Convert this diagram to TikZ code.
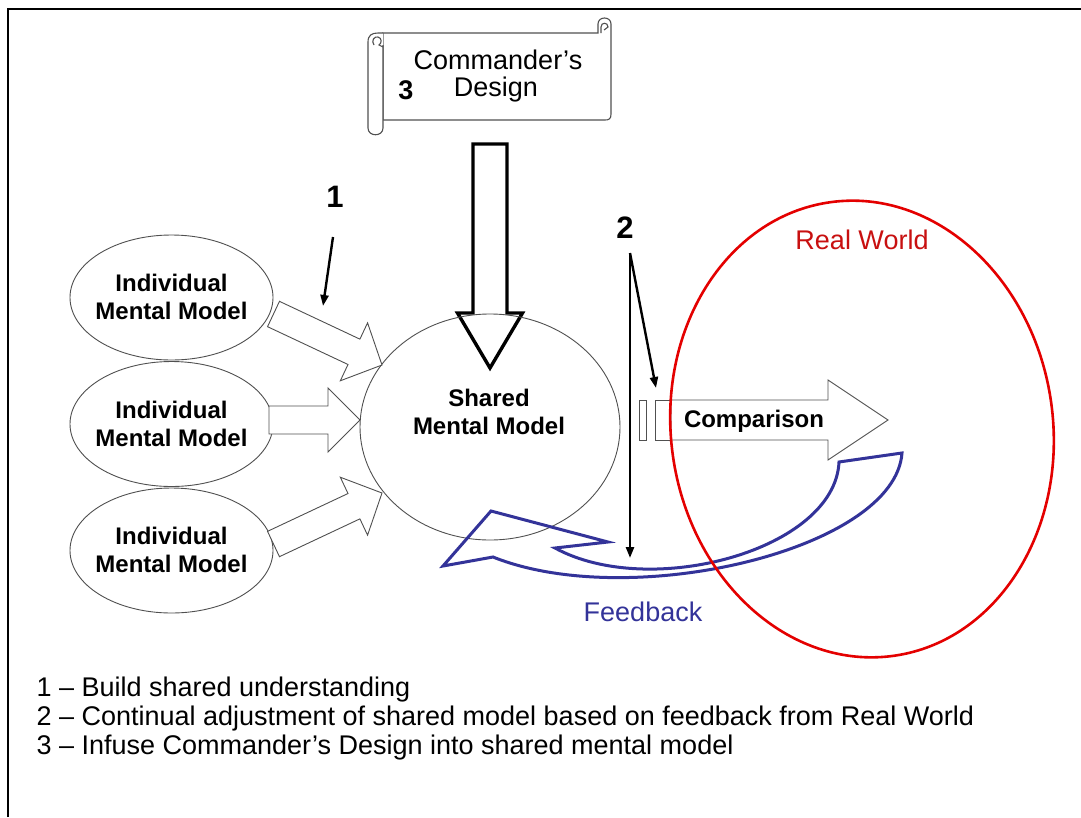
\documentclass[tikz,border=0pt]{standalone}
\usepackage{fontspec}
\setmainfont{Liberation Sans}
\usetikzlibrary{calc,arrows.meta,shapes.geometric}

\definecolor{rwred}{RGB}{228,0,0}
\definecolor{rwtext}{RGB}{200,16,16}
\definecolor{fbblue}{RGB}{51,51,153}
\definecolor{outl}{RGB}{80,80,80}

% block arrow: [style]{tail}{tip}{shaft half width}{head half width}{head length}
\newcommand\blockarrow[6][]{%
  \path ($(#3)!#6!(#2)$) coordinate (ba-h);
  \draw[#1] ($(#2)!#4!90:(#3)$) -- ($(ba-h)!#4!-90:(#2)$) -- ($(ba-h)!#5!-90:(#2)$)
    -- (#3) -- ($(ba-h)!#5!90:(#2)$) -- ($(ba-h)!#4!90:(#2)$) -- ($(#2)!#4!-90:(#3)$) -- cycle;
}

\tikzset{
  frameline/.style={line width=2.8pt},
  model/.style={ellipse, draw=outl, line width=0.9pt, inner sep=0pt},
  modeltext/.style={align=center, font=\fontsize{24}{28}\selectfont\bfseries},
  plaintext/.style={font=\fontsize{27}{32}\selectfont},
  numlabel/.style={font=\fontsize{31}{35}\selectfont\bfseries},
  legend/.style={anchor=west, font=\fontsize{27}{29}\selectfont},
  hollow/.style={draw=outl, line width=0.9pt, fill=white, line join=miter},
  pointer/.style={line width=2.4pt, -{Triangle[length=11pt,width=8pt]}},
  scrollline/.style={draw=outl, line width=1.1pt},
}

\begin{document}
\begin{tikzpicture}[x=1pt,y=-1pt]
\useasboundingbox (0,0) rectangle (1081,817);
\fill[white] (0,0) rectangle (1081,817);

% page frame
\draw[frameline] (8,817) -- (8,9) -- (1081,9);

% ---- Commander's Design scroll ----
\draw[scrollline, fill=white] (383,33) -- (598,33) -- (598,24)
  .. controls (598,16) and (611,16) .. (611,24) -- (611,114)
  .. controls (611,119) and (609,120) .. (605,120) -- (383,120) -- cycle;
\draw[scrollline] (601,33) -- (601,27) .. controls (601,22) and (608,22) .. (608,27) -- (604,30);
\draw[scrollline, fill=white] (383,45) -- (383,128)
  .. controls (383,137) and (368,137) .. (368,128) -- (368,42)
  .. controls (368,35) and (372,33) .. (378,33) -- (383,33);
\draw[scrollline] (374,45) .. controls (371,41) and (374,36) .. (378,37)
  .. controls (382,38) and (382,43) .. (379,45) -- (383,47);
\node[plaintext] (cmd1) at (498,60) {Commander’s};
\node[plaintext] (cmd2) at (496,90) {Design};
\node[font=\fontsize{27}{30}\selectfont\bfseries] (n3) at (406,90) {3};

% ---- individual models ----
\node[model, minimum width=203pt, minimum height=125pt] (ind1) at (171.5,297.5) {};
\node[model, minimum width=203pt, minimum height=125pt] (ind2) at (171.5,424) {};
\node[model, minimum width=203pt, minimum height=125pt] (ind3) at (171.5,550.5) {};
\node[modeltext] (ind1t) at (171.5,297) {Individual\\Mental Model};
\node[modeltext] (ind2t) at (171.5,423.5) {Individual\\Mental Model};
\node[modeltext] (ind3t) at (171.5,550) {Individual\\Mental Model};

% ---- commander's design arrow (drawn under the shared model outline) ----
\coordinate (cdt) at (490,144);
\coordinate (cde) at (490,368);
\blockarrow[draw=black, line width=3.4pt, line join=miter]{cdt}{cde}{17pt}{32.5pt}{55pt}

% ---- shared model ----
\node[model, minimum width=260pt, minimum height=226pt] (smm) at (490,427) {};
\node[modeltext] (smmt) at (489,412) {Shared\\Mental Model};

% ---- build shared understanding arrows ----
\coordinate (a1t) at (273.5,314);  \coordinate (a1e) at (382,365);
\coordinate (a2t) at (269,420);    \coordinate (a2e) at (360,420);
\coordinate (a3t) at (273.5,544);  \coordinate (a3e) at (382,493);
\blockarrow[hollow]{a1t}{a1e}{14pt}{32pt}{31pt}
\blockarrow[hollow]{a2t}{a2e}{14pt}{32pt}{32pt}
\blockarrow[hollow]{a3t}{a3e}{14pt}{32pt}{31pt}

% ---- label 1 ----
\node[numlabel] (lab1) at (335,197) {1};
\coordinate (p1s) at (333,237);
\coordinate (p1e) at (323,306);
\draw[pointer] (p1s) -- (p1e);

% ---- comparison ----
\draw[draw=outl, line width=0.9pt] (639,400) rectangle (646,440);
\draw[draw=outl, line width=0.9pt] (655,400) rectangle (671,440);
\coordinate (cmpt) at (671,420);
\coordinate (cmpe) at (888,420);
\blockarrow[hollow]{cmpt}{cmpe}{20pt}{40pt}{60pt}
\node[font=\fontsize{24}{28}\selectfont\bfseries] (cmpl) at (754,421) {Comparison};

% ---- label 2 ----
\node[numlabel] (lab2) at (625,228) {2};
\coordinate (p2s) at (630,253);
\coordinate (p2a) at (656,388);
\coordinate (p2b) at (630,558);
\draw[pointer] (p2s) -- (p2a);
\draw[pointer] (p2s) -- (p2b);

% ---- feedback arrow ----
\draw[fbblue, line width=3pt, line join=miter]
  (902,453) -- (839,462)
  .. controls (835,550) and (650,600) .. (555,548)
  -- (608,542) -- (491,511) -- (443,566) -- (493,557)
  .. controls (630,612) and (895,550) .. (902,453) -- cycle;
\node[plaintext, text=fbblue] (fbl) at (643,612) {Feedback};

% ---- real world (slightly tilted ellipse) ----
\node[ellipse, draw=rwred, line width=2.6pt, inner sep=0pt, rotate=8,
      minimum width=382pt, minimum height=458pt] (rw) at (862,429) {};
\node[plaintext, text=rwtext] (rwl) at (862,240) {Real World};

% ---- legend ----
\node[legend] (leg1) at (33,690) {1 – Build shared understanding};
\node[legend] (leg2) at (33,719) {2 – Continual adjustment of shared model based on feedback from Real World};
\node[legend] (leg3) at (33,748) {3 – Infuse Commander’s Design into shared mental model};
\end{tikzpicture}
\end{document}
